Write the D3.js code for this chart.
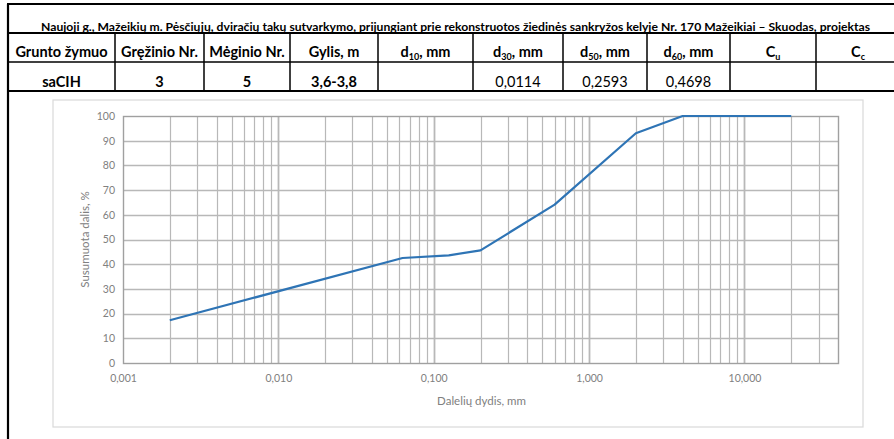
<!DOCTYPE html>
<html>
<head>
<meta charset="utf-8">
<script src="https://cdnjs.cloudflare.com/ajax/libs/d3/7.8.5/d3.min.js"></script>
<style>
  body { margin: 0; background: #fff; }
  svg { display: block; }
</style>
</head>
<body>
<script>
// table content
var title = "Naujoji g., Mažeikių m. Pėsčiųjų, dviračių takų sutvarkymo, prijungiant prie rekonstruotos žiedinės sankryžos kelyje Nr. 170 Mažeikiai – Skuodas, projektas";
var headers = [["Grunto žymuo"], ["Gręžinio Nr."], ["Mėginio Nr."], ["Gylis, m"],
               ["d", "10", ", mm"], ["d", "30", ", mm"], ["d", "50", ", mm"], ["d", "60", ", mm"],
               ["C", "u", ""], ["C", "c", ""]];
var rowValues = ["saCIH", "3", "5", "3,6-3,8", "", "0,0114", "0,2593", "0,4698", "", ""];
var boldValues = [true, true, true, true, false, false, false, false, false, false];

// grain size curve
var sizes = [0.002, 0.063, 0.125, 0.2, 0.6, 2, 4, 20];
var passing = [17.3, 42.5, 43.6, 45.6, 64.1, 93, 100, 100];

// axis ticks
var xTicks = [0.001, 0.01, 0.1, 1, 10];
var xTickLabels = ["0,001", "0,010", "0,100", "1,000", "10,000"];
var yTicks = [0, 10, 20, 30, 40, 50, 60, 70, 80, 90, 100];

var W = 894, H = 439;
var svg = d3.select("body").append("svg")
    .attr("width", W)
    .attr("height", H);

// ---------- table ----------
var colEdges = [8, 115, 204, 290, 378, 473, 563, 647, 730, 816, 900];
var rowTop = 4, titleBottom = 33, headBottom = 62, dataBottom = 91;
var tbl = svg.append("g");
var tableFont = "Lato, 'Open Sans', sans-serif";

// title
tbl.append("text")
    .attr("x", 41).attr("y", 31)
    .attr("textLength", 829).attr("lengthAdjust", "spacingAndGlyphs")
    .style("font-family", tableFont)
    .style("font-weight", "bold").style("font-size", "12px")
    .text(title);

// horizontal lines
tbl.append("line").attr("x1", 7).attr("x2", 900).attr("y1", rowTop).attr("y2", rowTop)
    .attr("stroke", "#000").attr("stroke-width", 2.2);
tbl.append("line").attr("x1", 8).attr("x2", 900).attr("y1", titleBottom).attr("y2", titleBottom)
    .attr("stroke", "#000").attr("stroke-width", 1.8);
tbl.append("line").attr("x1", 8).attr("x2", 900).attr("y1", headBottom).attr("y2", headBottom)
    .attr("stroke", "#000").attr("stroke-width", 1.5);
tbl.append("line").attr("x1", 7).attr("x2", 900).attr("y1", dataBottom).attr("y2", dataBottom)
    .attr("stroke", "#000").attr("stroke-width", 2.2);
// left border runs to page bottom
tbl.append("line").attr("x1", 8).attr("x2", 8).attr("y1", rowTop).attr("y2", H)
    .attr("stroke", "#000").attr("stroke-width", 2.2);
// column separators
colEdges.slice(1, -1).forEach(function(x) {
  tbl.append("line").attr("x1", x).attr("x2", x).attr("y1", titleBottom).attr("y2", dataBottom)
      .attr("stroke", "#000").attr("stroke-width", 1.5);
});

// header cells
headers.forEach(function(h, i) {
  var cx = (colEdges[i] + colEdges[i + 1]) / 2;
  var t = tbl.append("text")
      .attr("x", cx).attr("y", 57)
      .attr("text-anchor", "middle")
      .style("font-family", tableFont)
      .style("font-weight", "bold").style("font-size", "14.5px");
  if (h.length === 1) {
    t.text(h[0]);
  } else {
    t.append("tspan").text(h[0]);
    t.append("tspan").attr("dy", 3).style("font-size", "9px").text(h[1]);
    t.append("tspan").attr("dy", -3).text(h[2]);
  }
});

// data row
rowValues.forEach(function(v, i) {
  var cx = (colEdges[i] + colEdges[i + 1]) / 2;
  tbl.append("text")
      .attr("x", cx).attr("y", 87)
      .attr("text-anchor", "middle")
      .style("font-family", tableFont)
      .style("font-weight", boldValues[i] ? "bold" : "normal")
      .style("font-size", "14.5px")
      .text(v);
});

// ---------- chart ----------
svg.append("rect")
    .attr("x", 53).attr("y", 100).attr("width", 810).attr("height", 327)
    .attr("fill", "#fff").attr("stroke", "#d9d9d9").attr("stroke-width", 1.2);

var plot = {left: 123, right: 838, top: 116, bottom: 363};

var x = d3.scaleLog()
    .domain([0.001, 40])
    .range([plot.left, plot.right]);

var y = d3.scaleLinear()
    .domain([0, 100])
    .range([plot.bottom, plot.top]);

var g = svg.append("g");

// vertical grid lines (log minor + major)
var xGrid = x.ticks().filter(function(d) { return d > 0.001 && d < 40; });
g.selectAll(".vgrid")
    .data(xGrid)
  .enter().append("line")
    .attr("class", "vgrid")
    .attr("x1", function(d) { return Math.round(x(d)) + 0.5; })
    .attr("x2", function(d) { return Math.round(x(d)) + 0.5; })
    .attr("y1", plot.top).attr("y2", plot.bottom)
    .attr("stroke", "#b8b8b8")
    .attr("stroke-width", function(d) {
      var l = Math.log10(d);
      return Math.abs(l - Math.round(l)) < 1e-9 ? 1.8 : 1.2;
    });

// horizontal grid lines
g.selectAll(".hgrid")
    .data(yTicks.slice(1, -1))
  .enter().append("line")
    .attr("class", "hgrid")
    .attr("x1", plot.left).attr("x2", plot.right)
    .attr("y1", function(d) { return Math.round(y(d)) + 0.5; })
    .attr("y2", function(d) { return Math.round(y(d)) + 0.5; })
    .attr("stroke", "#b8b8b8").attr("stroke-width", 1.3);

// plot border
g.append("rect")
    .attr("x", plot.left + 0.5).attr("y", Math.round(y(100)) + 0.5)
    .attr("width", plot.right - plot.left)
    .attr("height", Math.round(y(0)) - Math.round(y(100)))
    .attr("fill", "none").attr("stroke", "#a0a0a0").attr("stroke-width", 1.4);

// y axis labels
var axisFont = "Lato, 'Open Sans', sans-serif";
var yAxis = d3.axisLeft(y).tickValues(yTicks).tickSize(0).tickPadding(8);
svg.append("g")
    .attr("transform", "translate(" + plot.left + ",0)")
    .call(yAxis)
    .call(function(s) { s.select(".domain").remove(); })
    .selectAll("text")
    .style("font-family", axisFont).style("font-size", "10.5px").attr("fill", "#808080");

// x axis labels
var xAxis = d3.axisBottom(x).tickValues(xTicks).tickSize(0).tickPadding(12)
    .tickFormat(function(d, i) { return xTickLabels[i]; });
svg.append("g")
    .attr("transform", "translate(0," + plot.bottom + ")")
    .call(xAxis)
    .call(function(s) { s.select(".domain").remove(); })
    .selectAll("text")
    .style("font-family", axisFont).style("font-size", "10.5px").attr("fill", "#808080");

// axis titles
svg.append("text")
    .attr("x", (plot.left + plot.right) / 2 + 1).attr("y", 405)
    .attr("text-anchor", "middle")
    .style("font-family", axisFont).style("font-size", "11.5px").attr("fill", "#808080")
    .text("Dalelių dydis, mm");

svg.append("text")
    .attr("transform", "translate(89," + (plot.top + plot.bottom) / 2 + ") rotate(-90)")
    .attr("text-anchor", "middle")
    .style("font-family", axisFont).style("font-size", "11.5px").attr("fill", "#808080")
    .text("Susumuota dalis, %");

// grading curve
var points = sizes.map(function(s, i) { return {size: s, pct: passing[i]}; });
var line = d3.line()
    .x(function(d) { return x(d.size); })
    .y(function(d) { return y(d.pct); });

svg.append("path")
    .datum(points)
    .attr("d", line)
    .attr("fill", "none")
    .attr("stroke", "#2e74b5")
    .attr("stroke-width", 2.2)
    .attr("stroke-linejoin", "round");
</script>
</body>
</html>
